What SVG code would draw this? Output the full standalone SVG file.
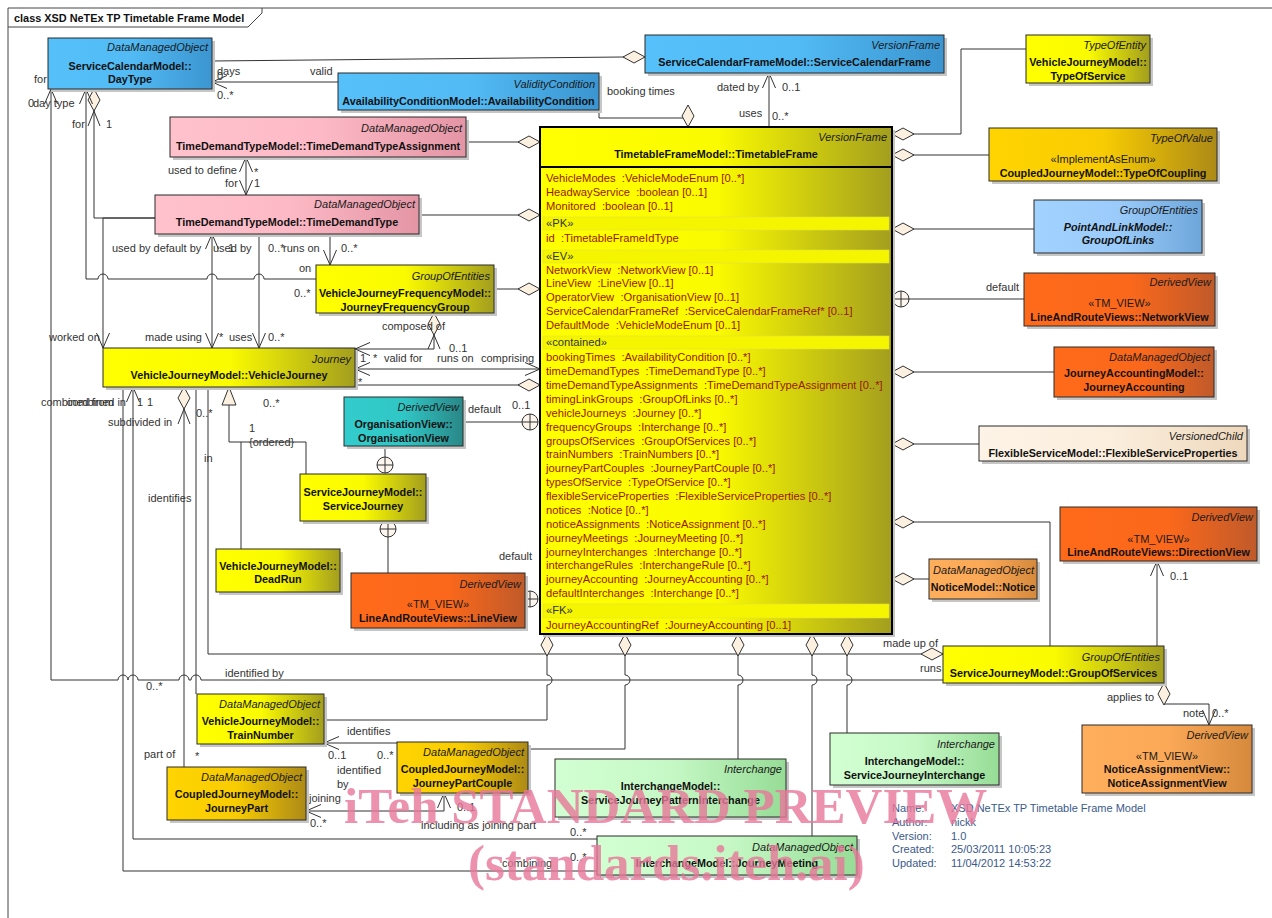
<svg xmlns="http://www.w3.org/2000/svg" width="1272" height="918" viewBox="0 0 1272 918">
<defs>
<style>
text{font-family:"Liberation Sans",Arial,sans-serif}
.bx{stroke:#2a2a2a;stroke-width:1}
.sh{fill:#c6c6c6}
.st{font-style:italic;font-size:11px;text-anchor:end;fill:#1a1a1a}
.nm{font-weight:bold;font-size:10.8px;text-anchor:middle;fill:#111}
.ni{font-weight:bold;font-style:italic;font-size:10.8px;text-anchor:middle;fill:#111}
.sv{font-size:11px;text-anchor:middle;fill:#1a1a1a}
.c{fill:none;stroke:#333;stroke-width:1}
.l{font-size:11px;fill:#333}
.at{font-size:11.2px;fill:#9a1800;white-space:pre}
.sec{font-size:11.2px;fill:#333}
.band{fill:#f5f500;stroke:#e0e040;stroke-width:.6}
.inf{font-size:11px;fill:#3a5a8c}
.wm{font-family:"Liberation Serif","Times New Roman",serif;font-weight:bold;font-size:51px;fill:#e8789a;opacity:.8}
</style>
<linearGradient id="gBlue" x1="0" y1="0" x2="1" y2="0"><stop offset="0" stop-color="#55c0fa"/><stop offset=".5" stop-color="#52bbf5"/><stop offset="1" stop-color="#3b95d0"/></linearGradient>
<linearGradient id="gPink" x1="0" y1="0" x2="1" y2="0"><stop offset="0" stop-color="#ffc2cd"/><stop offset=".5" stop-color="#fdbac6"/><stop offset="1" stop-color="#e495a5"/></linearGradient>
<linearGradient id="gYellow" x1="0" y1="0" x2="1" y2="0"><stop offset="0" stop-color="#ffff00"/><stop offset=".5" stop-color="#fbfb00"/><stop offset="1" stop-color="#a39e1e"/></linearGradient>
<linearGradient id="gGold" x1="0" y1="0" x2="1" y2="0"><stop offset="0" stop-color="#ffd400"/><stop offset=".5" stop-color="#f8cc02"/><stop offset="1" stop-color="#ad8a16"/></linearGradient>
<linearGradient id="gLBlue" x1="0" y1="0" x2="1" y2="0"><stop offset="0" stop-color="#a2d2ff"/><stop offset=".5" stop-color="#9acbfa"/><stop offset="1" stop-color="#6ea6da"/></linearGradient>
<linearGradient id="gTeal" x1="0" y1="0" x2="1" y2="0"><stop offset="0" stop-color="#33cccc"/><stop offset=".5" stop-color="#31c6c6"/><stop offset="1" stop-color="#2a8787"/></linearGradient>
<linearGradient id="gOrange" x1="0" y1="0" x2="1" y2="0"><stop offset="0" stop-color="#ff6a1a"/><stop offset=".55" stop-color="#fb681b"/><stop offset="1" stop-color="#c05a2a"/></linearGradient>
<linearGradient id="gLOrange" x1="0" y1="0" x2="1" y2="0"><stop offset="0" stop-color="#ffae5c"/><stop offset=".5" stop-color="#fba957"/><stop offset="1" stop-color="#d6893c"/></linearGradient>
<linearGradient id="gBeige" x1="0" y1="0" x2="1" y2="0"><stop offset="0" stop-color="#fdf3e6"/><stop offset=".5" stop-color="#fbeedd"/><stop offset="1" stop-color="#eed8bc"/></linearGradient>
<linearGradient id="gGreen" x1="0" y1="0" x2="1" y2="0"><stop offset="0" stop-color="#d2ffd2"/><stop offset=".5" stop-color="#c6f8c6"/><stop offset="1" stop-color="#96dc96"/></linearGradient>
<marker id="arr" markerUnits="userSpaceOnUse" markerWidth="18" markerHeight="16" viewBox="0 0 18 16" refX="16" refY="8" orient="auto-start-reverse"><path d="M1,1.5 L16,8 L1,14.5" fill="none" stroke="#333" stroke-width="1"/></marker>
<marker id="dia" markerUnits="userSpaceOnUse" markerWidth="24" markerHeight="14" viewBox="0 0 24 14" refX="23" refY="7" orient="auto-start-reverse"><path d="M1,7 L12,1 L23,7 L12,13 Z" fill="#fcf0e0" stroke="#333" stroke-width="1"/></marker>
<g id="cp"><circle cx="0" cy="0" r="8" fill="#fdf6ee" stroke="#333"/><path d="M-8,0H8M0,-8V8" stroke="#333" fill="none"/></g>
</defs>
<rect x="0" y="0" width="1272" height="918" fill="#fff"/>
<g id="frame">
<path d="M8,918 V8 H1272" fill="none" stroke="#444"/>
<path d="M8,27 H248 L262,13 V8" fill="none" stroke="#444"/>
<text x="14" y="22" font-weight="bold" font-size="10.9" fill="#111">class XSD NeTEx TP Timetable Frame Model</text>
</g>

<g id="connectors">
<path class="c" d="M212,61 L623,57 H645" marker-end="url(#dia)"/>
<path class="c" d="M338,82 H212" marker-end="url(#arr)"/>
<path class="c" d="M599,110 V118 H688 V127" marker-end="url(#dia)"/>
<path class="c" d="M769,127 V73" marker-end="url(#arr)"/>
<path class="c" d="M466,142 H540" marker-end="url(#dia)"/>
<path class="c" d="M246,157 V195" marker-start="url(#arr)" marker-end="url(#arr)"/>
<path class="c" d="M419,215 H540" marker-end="url(#dia)"/>
<path class="c" d="M94,89 V218 H155" marker-start="url(#dia)"/>
<path class="c" d="M88,126 L94,111 L100,126"/>
<path class="c" d="M155,218 H103 V348" marker-end="url(#arr)"/>
<path class="c" d="M86,89 V279 H98 A5,5 0 0 1 108,279 H207 A5,5 0 0 1 217,279 H254 A5,5 0 0 1 264,279 H316" marker-start="url(#arr)"/>
<path class="c" d="M51,89 V680 H118 A5,5 0 0 1 128,680 A5,5 0 0 1 138,680 H179 A5,5 0 0 1 189,680 H191 A5,5 0 0 1 201,680 H943" marker-start="url(#arr)"/>
<path class="c" d="M212,234 V348" marker-start="url(#arr)" marker-end="url(#arr)"/>
<path class="c" d="M259,234 V348" marker-end="url(#arr)"/>
<path class="c" d="M330,234 V265" marker-end="url(#arr)"/>
<path class="c" d="M494,289 H540" marker-end="url(#dia)"/>
<path class="c" d="M355,349 H434 V313" marker-start="url(#arr)" marker-end="url(#dia)"/>
<path class="c" d="M428,349 L434,335 L440,349"/>
<path class="c" d="M355,369 H540" marker-start="url(#arr)" marker-end="url(#arr)"/>
<path class="c" d="M355,385 H540" marker-end="url(#dia)"/>
<path class="c" d="M463,422 H522"/>
<use href="#cp" x="530" y="422"/>
<path class="c" d="M385,446 V457"/>
<use href="#cp" x="385" y="465"/>
<path class="c" d="M388,537 V573"/>
<use href="#cp" x="388" y="529"/>
<use href="#cp" x="530" y="599"/>
<path class="c" d="M229,405 V442 H306 V474 M241,442 V549"/>
<polygon points="229,387 222,405 236,405" fill="#fcf0e0" stroke="#333"/>
<path class="c" d="M184,387 V767" marker-start="url(#dia)"/>
<path class="c" d="M178,424 L184,409 L190,424"/>
<path class="c" d="M196,387 V694"/>
<path class="c" d="M208,387 V654 H943" marker-end="url(#dia)"/>
<path class="c" d="M133,387 V839 H597" marker-start="url(#arr)"/>
<path class="c" d="M123,387 V871 H597"/>
<path class="c" d="M324,720 H547 V685 A5,5 0 0 0 547,675 V634" marker-end="url(#dia)"/>
<path class="c" d="M528,749 H625 V685 A5,5 0 0 0 625,675 V634" marker-end="url(#dia)"/>
<path class="c" d="M738,759 V685 A5,5 0 0 0 738,675 V634" marker-end="url(#dia)"/>
<path class="c" d="M812,836 V685 A5,5 0 0 0 812,675 V634" marker-end="url(#dia)"/>
<path class="c" d="M847,733 V685 A5,5 0 0 0 847,675 V634" marker-end="url(#dia)"/>
<path class="c" d="M397,743 H324" marker-end="url(#arr)"/>
<path class="c" d="M444,793 V811 H306" marker-start="url(#arr)" marker-end="url(#arr)"/>
<path class="c" d="M1026,49 H961 V134 H892" marker-end="url(#dia)"/>
<path class="c" d="M989,155 H892" marker-end="url(#dia)"/>
<path class="c" d="M1034,229 H892" marker-end="url(#dia)"/>
<path class="c" d="M1024,299 H909"/>
<use href="#cp" x="901" y="299"/>
<path class="c" d="M1054,372 H892" marker-end="url(#dia)"/>
<path class="c" d="M979,444 H892" marker-end="url(#dia)"/>
<path class="c" d="M1050,646 V522 H892" marker-end="url(#dia)"/>
<path class="c" d="M929,579 H892" marker-end="url(#dia)"/>
<path class="c" d="M1157,646 V561" marker-end="url(#arr)"/>
<path class="c" d="M1164,683 V704 H1209 V725" marker-start="url(#dia)" marker-end="url(#arr)"/>

<g id="labels">
<text class="l" x="217" y="75">days</text>
<text class="l" x="217" y="80">0</text>
<text class="l" x="310" y="75">valid</text>
<text class="l" x="217" y="99">0..*</text>
<text class="l" x="34" y="83">for</text>
<text class="l" x="28" y="107">0</text>
<text class="l" x="33" y="107">day type</text>
<text class="l" x="72" y="128">for</text>
<text class="l" x="106" y="128">1</text>
<text class="l" x="237" y="174" text-anchor="end">used to define</text>
<text class="l" x="254" y="176">*</text>
<text class="l" x="225" y="187">for</text>
<text class="l" x="254" y="187">1</text>
<text class="l" x="607" y="95">booking times</text>
<text class="l" x="717" y="91">dated by</text>
<text class="l" x="782" y="91">0..1</text>
<text class="l" x="739" y="117">uses</text>
<text class="l" x="772" y="120">0..*</text>
<text class="l" x="112" y="252">used by default by</text>
<text class="l" x="213" y="252">used by</text>
<text class="l" x="228" y="252">1</text>
<text class="l" x="268" y="252">0..*</text>
<text class="l" x="283" y="252">runs on</text>
<text class="l" x="341" y="252">0..*</text>
<text class="l" x="299" y="272">on</text>
<text class="l" x="294" y="297">0..*</text>
<text class="l" x="49" y="341">worked on</text>
<text class="l" x="145" y="341">made using</text>
<text class="l" x="219" y="341">*</text>
<text class="l" x="229" y="341">uses</text>
<text class="l" x="268" y="341">0..*</text>
<text class="l" x="382" y="330">composed of</text>
<text class="l" x="449" y="352">0..1</text>
<text class="l" x="360" y="362">1</text>
<text class="l" x="373" y="362">*</text>
<text class="l" x="384" y="362">valid for</text>
<text class="l" x="437" y="362">runs on</text>
<text class="l" x="481" y="362">comprising</text>
<text class="l" x="358" y="386">*</text>
<text class="l" x="41" y="406">combined from</text>
<text class="l" x="126" y="406" text-anchor="end">combined in</text>
<text class="l" x="137" y="406">1</text>
<text class="l" x="147" y="406">1</text>
<text class="l" x="108" y="426">subdivided in</text>
<text class="l" x="196" y="417">0..*</text>
<text class="l" x="263" y="407">0..*</text>
<text class="l" x="249" y="432">1</text>
<text class="l" x="249" y="446">{ordered}</text>
<text class="l" x="204" y="462">in</text>
<text class="l" x="148" y="502">identifies</text>
<text class="l" x="468" y="413">default</text>
<text class="l" x="512" y="409">0..1</text>
<text class="l" x="499" y="560">default</text>
<text class="l" x="225" y="677">identified by</text>
<text class="l" x="146" y="690">0..*</text>
<text class="l" x="144" y="758">part of</text>
<text class="l" x="195" y="760">*</text>
<text class="l" x="347" y="735">identifies</text>
<text class="l" x="328" y="759">0..1</text>
<text class="l" x="377" y="759">0..*</text>
<text class="l" x="337" y="774">identified</text>
<text class="l" x="337" y="788">by</text>
<text class="l" x="309" y="802">joining</text>
<text class="l" x="310" y="827">0..*</text>
<text class="l" x="457" y="811">0..1</text>
<text class="l" x="421" y="829">including as joining part</text>
<text class="l" x="570" y="836">0..*</text>
<text class="l" x="502" y="867">combining</text>
<text class="l" x="570" y="861">0..*</text>
<text class="l" x="883" y="647">made up of</text>
<text class="l" x="920" y="672">runs</text>
<text class="l" x="986" y="291">default</text>
<text class="l" x="1170" y="580">0..1</text>
<text class="l" x="1107" y="701">applies to</text>
<text class="l" x="1183" y="717">note</text>
<text class="l" x="1212" y="717">0..*</text>
</g>
</g>

<g id="n-daytype"><rect class="sh" x="51" y="41" width="164" height="51"/><rect class="bx" x="48" y="38" width="164" height="51" fill="url(#gBlue)"/><text class="st" x="208" y="51">DataManagedObject</text><text class="nm" x="130" y="70">ServiceCalendarModel::</text><text class="nm" x="130" y="83">DayType</text></g>
<g id="n-servicecalendarframe"><rect class="sh" x="648" y="38" width="299" height="38"/><rect class="bx" x="645" y="35" width="299" height="38" fill="url(#gBlue)"/><text class="st" x="940" y="49">VersionFrame</text><text class="nm" x="794.5" y="66">ServiceCalendarFrameModel::ServiceCalendarFrame</text></g>
<g id="n-availabilitycondition"><rect class="sh" x="341" y="76" width="261" height="37"/><rect class="bx" x="338" y="73" width="261" height="37" fill="url(#gBlue)"/><text class="st" x="595" y="88">ValidityCondition</text><text class="nm" x="468.5" y="105">AvailabilityConditionModel::AvailabilityCondition</text></g>
<g id="n-timedemandtypeassignment"><rect class="sh" x="173" y="120" width="296" height="40"/><rect class="bx" x="170" y="117" width="296" height="40" fill="url(#gPink)"/><text class="st" x="462" y="132">DataManagedObject</text><text class="nm" x="318" y="150">TimeDemandTypeModel::TimeDemandTypeAssignment</text></g>
<g id="n-timedemandtype"><rect class="sh" x="158" y="198" width="264" height="39"/><rect class="bx" x="155" y="195" width="264" height="39" fill="url(#gPink)"/><text class="st" x="415" y="208">DataManagedObject</text><text class="nm" x="287" y="226">TimeDemandTypeModel::TimeDemandType</text></g>

<g id="n-timetableframe">
<rect class="sh" x="543" y="130" width="352" height="507"/>
<rect x="540" y="127" width="352" height="507" fill="url(#gYellow)" stroke="#000" stroke-width="2"/>
<line x1="540" y1="167" x2="892" y2="167" stroke="#000" stroke-width="2"/>
<text class="st" x="887" y="141">VersionFrame</text>
<text class="nm" x="716" y="158">TimetableFrameModel::TimetableFrame</text>
<rect class="band" x="543" y="217" width="346" height="13"/>
<rect class="band" x="543" y="250" width="346" height="13"/>
<rect class="band" x="543" y="336" width="346" height="13"/>
<rect class="band" x="543" y="604" width="346" height="14"/>
<text class="at" x="546" y="182">VehicleModes  :VehicleModeEnum [0..*]</text>
<text class="at" x="546" y="196">HeadwayService  :boolean [0..1]</text>
<text class="at" x="546" y="210">Monitored  :boolean [0..1]</text>
<text class="sec" x="546" y="227">«PK»</text>
<text class="at" x="546" y="242">id  :TimetableFrameIdType</text>
<text class="sec" x="546" y="260">«EV»</text>
<text class="at" x="546" y="274">NetworkView  :NetworkView [0..1]</text>
<text class="at" x="546" y="287">LineView  :LineView [0..1]</text>
<text class="at" x="546" y="301">OperatorView  :OrganisationView [0..1]</text>
<text class="at" x="546" y="315">ServiceCalendarFrameRef  :ServiceCalendarFrameRef* [0..1]</text>
<text class="at" x="546" y="329">DefaultMode  :VehicleModeEnum [0..1]</text>
<text class="sec" x="546" y="346">«contained»</text>
<text class="at" x="546" y="361">bookingTimes  :AvailabilityCondition [0..*]</text>
<text class="at" x="546" y="375">timeDemandTypes  :TimeDemandType [0..*]</text>
<text class="at" x="546" y="389">timeDemandTypeAssignments  :TimeDemandTypeAssignment [0..*]</text>
<text class="at" x="546" y="403">timingLinkGroups  :GroupOfLinks [0..*]</text>
<text class="at" x="546" y="417">vehicleJourneys  :Journey [0..*]</text>
<text class="at" x="546" y="431">frequencyGroups  :Interchange [0..*]</text>
<text class="at" x="546" y="445">groupsOfServices  :GroupOfServices [0..*]</text>
<text class="at" x="546" y="458">trainNumbers  :TrainNumbers [0..*]</text>
<text class="at" x="546" y="472">journeyPartCouples  :JourneyPartCouple [0..*]</text>
<text class="at" x="546" y="486">typesOfService  :TypeOfService [0..*]</text>
<text class="at" x="546" y="500">flexibleServiceProperties  :FlexibleServiceProperties [0..*]</text>
<text class="at" x="546" y="514">notices  :Notice [0..*]</text>
<text class="at" x="546" y="528">noticeAssignments  :NoticeAssignment [0..*]</text>
<text class="at" x="546" y="542">journeyMeetings  :JourneyMeeting [0..*]</text>
<text class="at" x="546" y="556">journeyInterchanges  :Interchange [0..*]</text>
<text class="at" x="546" y="569">interchangeRules  :InterchangeRule [0..*]</text>
<text class="at" x="546" y="583">journeyAccounting  :JourneyAccounting [0..*]</text>
<text class="at" x="546" y="597">defaultInterchanges  :Interchange [0..*]</text>
<text class="sec" x="546" y="614">«FK»</text>
<text class="at" x="546" y="629">JourneyAccountingRef  :JourneyAccounting [0..1]</text>
</g>

<g id="n-typeofservice"><rect class="sh" x="1029" y="38" width="124" height="48"/><rect class="bx" x="1026" y="35" width="124" height="48" fill="url(#gYellow)"/><text class="st" x="1146" y="49">TypeOfEntity</text><text class="nm" x="1088" y="66">VehicleJourneyModel::</text><text class="nm" x="1088" y="80">TypeOfService</text></g>
<g id="n-typeofcoupling"><rect class="sh" x="992" y="131" width="228" height="53"/><rect class="bx" x="989" y="128" width="228" height="53" fill="url(#gGold)"/><text class="st" x="1213" y="142">TypeOfValue</text><text class="sv" x="1103" y="163">«ImplementAsEnum»</text><text class="nm" x="1103" y="177">CoupledJourneyModel::TypeOfCoupling</text></g>
<g id="n-groupoflinks"><rect class="sh" x="1037" y="203" width="168" height="53"/><rect class="bx" x="1034" y="200" width="168" height="53" fill="url(#gLBlue)"/><text class="st" x="1198" y="214">GroupOfEntities</text><text class="ni" x="1118" y="231">PointAndLinkModel::</text><text class="ni" x="1118" y="244">GroupOfLinks</text></g>
<g id="n-networkview"><rect class="sh" x="1027" y="276" width="191" height="53"/><rect class="bx" x="1024" y="273" width="191" height="53" fill="url(#gOrange)"/><text class="st" x="1211" y="286">DerivedView</text><text class="sv" x="1119.5" y="307">«TM_VIEW»</text><text class="nm" x="1119.5" y="321">LineAndRouteViews::NetworkView</text></g>
<g id="n-journeyaccounting"><rect class="sh" x="1057" y="350" width="160" height="50"/><rect class="bx" x="1054" y="347" width="160" height="50" fill="url(#gOrange)"/><text class="st" x="1210" y="361">DataManagedObject</text><text class="nm" x="1134" y="377">JourneyAccountingModel::</text><text class="nm" x="1134" y="391">JourneyAccounting</text></g>
<g id="n-flexibleserviceproperties"><rect class="sh" x="982" y="429" width="268" height="35"/><rect class="bx" x="979" y="426" width="268" height="35" fill="url(#gBeige)"/><text class="st" x="1243" y="440">VersionedChild</text><text class="nm" x="1113" y="457">FlexibleServiceModel::FlexibleServiceProperties</text></g>
<g id="n-directionview"><rect class="sh" x="1063" y="510" width="197" height="54"/><rect class="bx" x="1060" y="507" width="197" height="54" fill="url(#gOrange)"/><text class="st" x="1253" y="521">DerivedView</text><text class="sv" x="1158.5" y="543">«TM_VIEW»</text><text class="nm" x="1158.5" y="556">LineAndRouteViews::DirectionView</text></g>
<g id="n-notice"><rect class="sh" x="932" y="562" width="108" height="40"/><rect class="bx" x="929" y="559" width="108" height="40" fill="url(#gLOrange)"/><text class="st" x="1034" y="574">DataManagedObject</text><text class="nm" x="983" y="591">NoticeModel::Notice</text></g>
<g id="n-groupofservices"><rect class="sh" x="946" y="649" width="221" height="37"/><rect class="bx" x="943" y="646" width="221" height="37" fill="url(#gYellow)"/><text class="st" x="1160" y="661">GroupOfEntities</text><text class="nm" x="1053.5" y="677">ServiceJourneyModel::GroupOfServices</text></g>
<g id="n-noticeassignmentview"><rect class="sh" x="1085" y="728" width="170" height="68"/><rect class="bx" x="1082" y="725" width="170" height="68" fill="url(#gLOrange)"/><text class="st" x="1248" y="739">DerivedView</text><text class="sv" x="1167" y="760">«TM_VIEW»</text><text class="nm" x="1167" y="773">NoticeAssignmentView::</text><text class="nm" x="1167" y="787">NoticeAssignmentView</text></g>
<g id="n-servicejourneyinterchange"><rect class="sh" x="833" y="736" width="169" height="52"/><rect class="bx" x="830" y="733" width="169" height="52" fill="url(#gGreen)"/><text class="st" x="995" y="748">Interchange</text><text class="nm" x="914.5" y="765">InterchangeModel::</text><text class="nm" x="914.5" y="779">ServiceJourneyInterchange</text></g>
<g id="n-servicejourneypatterninterchange"><rect class="sh" x="558" y="762" width="231" height="58"/><rect class="bx" x="555" y="759" width="231" height="58" fill="url(#gGreen)"/><text class="st" x="782" y="773">Interchange</text><text class="nm" x="670.5" y="790">InterchangeModel::</text><text class="nm" x="670.5" y="804">ServiceJourneyPatternInterchange</text></g>
<g id="n-journeymeeting"><rect class="sh" x="600" y="839" width="260" height="39"/><rect class="bx" x="597" y="836" width="260" height="39" fill="url(#gGreen)"/><text class="st" x="853" y="851">DataManagedObject</text><text class="nm" x="727" y="867">InterchangeModel::JourneyMeeting</text></g>
<g id="n-journeypartcouple"><rect class="sh" x="400" y="745" width="131" height="51"/><rect class="bx" x="397" y="742" width="131" height="51" fill="url(#gGold)"/><text class="st" x="524" y="756">DataManagedObject</text><text class="nm" x="462.5" y="773">CoupledJourneyModel::</text><text class="nm" x="462.5" y="787">JourneyPartCouple</text></g>
<g id="n-journeypart"><rect class="sh" x="170" y="770" width="139" height="53"/><rect class="bx" x="167" y="767" width="139" height="53" fill="url(#gGold)"/><text class="st" x="302" y="781">DataManagedObject</text><text class="nm" x="236.5" y="798">CoupledJourneyModel::</text><text class="nm" x="236.5" y="812">JourneyPart</text></g>
<g id="n-trainnumber"><rect class="sh" x="200" y="697" width="127" height="50"/><rect class="bx" x="197" y="694" width="127" height="50" fill="url(#gYellow)"/><text class="st" x="320" y="708">DataManagedObject</text><text class="nm" x="260.5" y="725">VehicleJourneyModel::</text><text class="nm" x="260.5" y="739">TrainNumber</text></g>
<g id="n-deadrun"><rect class="sh" x="219" y="552" width="124" height="43"/><rect class="bx" x="216" y="549" width="124" height="43" fill="url(#gYellow)"/><text class="nm" x="278" y="570">VehicleJourneyModel::</text><text class="nm" x="278" y="583">DeadRun</text></g>
<g id="n-servicejourney"><rect class="sh" x="303" y="477" width="126" height="47"/><rect class="bx" x="300" y="474" width="126" height="47" fill="url(#gYellow)"/><text class="nm" x="363" y="496">ServiceJourneyModel::</text><text class="nm" x="363" y="510">ServiceJourney</text></g>
<g id="n-lineview"><rect class="sh" x="354" y="576" width="174" height="55"/><rect class="bx" x="351" y="573" width="174" height="55" fill="url(#gOrange)"/><text class="st" x="521" y="588">DerivedView</text><text class="sv" x="438" y="608">«TM_VIEW»</text><text class="nm" x="438" y="622">LineAndRouteViews::LineView</text></g>
<g id="n-organisationview"><rect class="sh" x="347" y="400" width="119" height="49"/><rect class="bx" x="344" y="397" width="119" height="49" fill="url(#gTeal)"/><text class="st" x="459" y="411">DerivedView</text><text class="nm" x="403.5" y="428">OrganisationView::</text><text class="nm" x="403.5" y="442">OrganisationView</text></g>
<g id="n-vehiclejourney"><rect class="sh" x="106" y="351" width="252" height="39"/><rect class="bx" x="103" y="348" width="252" height="39" fill="url(#gYellow)"/><text class="st" x="351" y="363">Journey</text><text class="nm" x="229" y="379">VehicleJourneyModel::VehicleJourney</text></g>
<g id="n-journeyfrequencygroup"><rect class="sh" x="319" y="268" width="178" height="48"/><rect class="bx" x="316" y="265" width="178" height="48" fill="url(#gYellow)"/><text class="st" x="490" y="280">GroupOfEntities</text><text class="nm" x="405" y="297">VehicleJourneyFrequencyModel::</text><text class="nm" x="405" y="311">JourneyFrequencyGroup</text></g>

<g id="info">
<text class="inf" x="892" y="812">Name:</text><text class="inf" x="951" y="812">XSD NeTEx TP Timetable Frame Model</text>
<text class="inf" x="892" y="826">Author:</text><text class="inf" x="951" y="826">nickk</text>
<text class="inf" x="892" y="840">Version:</text><text class="inf" x="951" y="840">1.0</text>
<text class="inf" x="892" y="853">Created:</text><text class="inf" x="951" y="853">25/03/2011 10:05:23</text>
<text class="inf" x="892" y="867">Updated:</text><text class="inf" x="951" y="867">11/04/2012 14:53:22</text>
</g>
<g id="watermark">
<text class="wm" x="344" y="823">iTeh STANDARD PREVIEW</text>
<text class="wm" x="468" y="880">(standards.iteh.ai)</text>
</g>
</svg>
